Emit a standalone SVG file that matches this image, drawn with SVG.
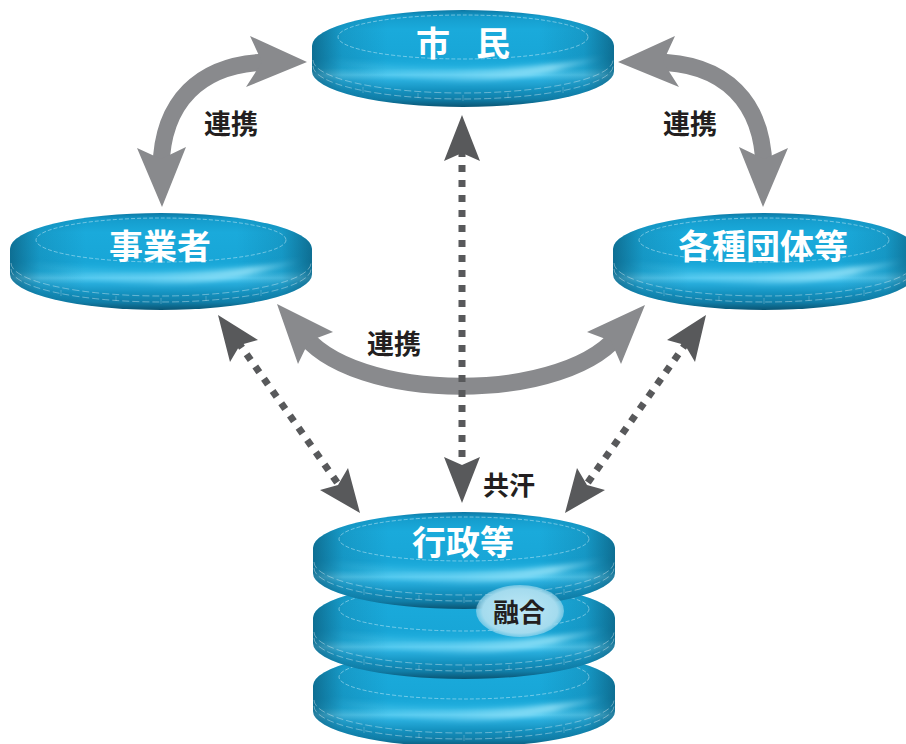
<svg xmlns="http://www.w3.org/2000/svg" xmlns:xlink="http://www.w3.org/1999/xlink" width="906" height="744" viewBox="0 0 906 744">
  <style>
    .lbl { font-family: "Noto Sans CJK JP", "Noto Sans", sans-serif; font-weight: 700; }
    .disk-text { fill: #ffffff; font-size: 34px; text-anchor: middle; dominant-baseline: central; }
    .link-text { fill: #231f20; font-size: 27px; text-anchor: middle; dominant-baseline: central; }
    .gray-shaft { fill: none; stroke: #898a8d; stroke-width: 17; }
    .gray-head { fill: #898a8d; }
    .dots { fill: none; stroke: #58595b; stroke-width: 7; stroke-dasharray: 7 8; }
    .dark-head { fill: #58595b; }
    .rim-dash { fill: none; stroke: #ffffff; stroke-opacity: 0.4; stroke-width: 0.9; stroke-dasharray: 7 3; }
  </style>
  <defs>
    <linearGradient id="body" x1="0" y1="0" x2="0" y2="1">
      <stop offset="0" stop-color="#0d78a4"/>
      <stop offset="0.07" stop-color="#159dcd"/>
      <stop offset="0.2" stop-color="#1aaadb"/>
      <stop offset="0.5" stop-color="#18a6d7"/>
      <stop offset="0.6" stop-color="#22b0df"/>
      <stop offset="0.67" stop-color="#4fc8ef"/>
      <stop offset="0.73" stop-color="#27acdb"/>
      <stop offset="0.82" stop-color="#1593c1"/>
      <stop offset="0.92" stop-color="#107ea8"/>
      <stop offset="1" stop-color="#0a5574"/>
    </linearGradient>
    <linearGradient id="endShade" x1="0" y1="0" x2="1" y2="0">
      <stop offset="0" stop-color="#05405a" stop-opacity="0.55"/>
      <stop offset="0.1" stop-color="#05405a" stop-opacity="0.15"/>
      <stop offset="0.25" stop-color="#05405a" stop-opacity="0"/>
      <stop offset="0.75" stop-color="#05405a" stop-opacity="0"/>
      <stop offset="0.9" stop-color="#05405a" stop-opacity="0.15"/>
      <stop offset="1" stop-color="#05405a" stop-opacity="0.55"/>
    </linearGradient>
    <linearGradient id="sheen" x1="0" y1="0" x2="1" y2="0">
      <stop offset="0" stop-color="#9be4f9" stop-opacity="0"/>
      <stop offset="0.45" stop-color="#9be4f9" stop-opacity="0.25"/>
      <stop offset="0.8" stop-color="#b0eefd" stop-opacity="0.7"/>
      <stop offset="1" stop-color="#9be4f9" stop-opacity="0"/>
    </linearGradient>
    <radialGradient id="bubble" cx="0.5" cy="0.5" r="0.5">
      <stop offset="0" stop-color="#bfe8f5"/>
      <stop offset="0.85" stop-color="#a4dbee"/>
      <stop offset="1" stop-color="#a4dbee" stop-opacity="0.6"/>
    </radialGradient>
    <filter id="soft" x="-10%" y="-50%" width="120%" height="200%">
      <feGaussianBlur stdDeviation="2.5"/>
    </filter>

    <!-- glossy puck, 302 wide and 97 tall, top-centre at the origin -->
    <g id="puck">
      <path d="M-151,36 A151,36 0 0 1 151,36 L151,61 A151,36 0 0 1 -151,61 Z" fill="url(#body)"/>
      <path d="M-151,36 A151,36 0 0 1 151,36 L151,61 A151,36 0 0 1 -151,61 Z" fill="url(#endShade)"/>
      <path d="M-146,46 Q0,96 146,46 Q0,72 -146,46 Z" fill="url(#sheen)" filter="url(#soft)"/>
      <ellipse cx="0" cy="27" rx="125" ry="22" fill="none" stroke="#d4f1fb" stroke-opacity="0.6" stroke-width="0.8" stroke-dasharray="4 2"/>
      <path class="rim-dash" d="M-150,50 A150,33 0 0 0 150,50"/>
      <path class="rim-dash" d="M-150,56 A150,33 0 0 0 150,56"/>
      <path d="M-100,77 v6 M-45,83 v5 M0,85 v6 M45,83 v5 M100,77 v6" stroke="#ffffff" stroke-opacity="0.3" stroke-width="0.8"/>
    </g>
  </defs>

  <!-- connectors -->
  <g id="connectors">
    <!-- solid grey partnership arrows -->
    <path class="gray-shaft" d="M272,62 C198,62 162,104 161,168"/>
    <polygon class="gray-head" points="307,62 250,36 262,62 246,87"/>
    <polygon class="gray-head" points="162,207 137,148 161,159 186,147"/>

    <path class="gray-shaft" d="M653,62 C727,62 763,104 764,168"/>
    <polygon class="gray-head" points="618,62 675,36 663,62 679,87"/>
    <polygon class="gray-head" points="763,207 788,148 764,159 739,147"/>

    <path class="gray-shaft" d="M300,330 C350,405 572,405 622,330"/>
    <polygon class="gray-head" points="277,304 333,332 309,341 298,364"/>
    <polygon class="gray-head" points="645,305 587,332 611,341 621,364"/>

    <!-- dotted arrows to the administration stack -->
    <path class="dots" d="M462,150 L462,470"/>
    <polygon class="dark-head" points="462,115 444,161 462,153 480,161"/>
    <polygon class="dark-head" points="462,503 444,457 462,465 480,457"/>

    <path class="dots" d="M238,342 L341,488"/>
    <polygon class="dark-head" points="218,315 258,340 240,345 230,362"/>
    <polygon class="dark-head" points="360,513 320,490 338,485 348,468"/>

    <path class="dots" d="M687,342 L584,488"/>
    <polygon class="dark-head" points="706,315 667,340 685,345 695,362"/>
    <polygon class="dark-head" points="565,513 605,490 587,485 577,468"/>

    <text class="lbl link-text" x="231" y="122">連携</text>
    <text class="lbl link-text" x="690" y="122">連携</text>
    <text class="lbl link-text" x="394" y="342">連携</text>
    <text class="lbl link-text" x="509" y="483" style="font-size:26px">共汗</text>
  </g>

  <g id="node-shimin">
    <use href="#puck" x="463" y="10"/>
    <text class="lbl disk-text" y="41"><tspan x="433">市</tspan><tspan x="493">民</tspan></text>
  </g>

  <g id="node-jigyosha">
    <use href="#puck" x="161" y="213"/>
    <text class="lbl disk-text" x="160" y="244">事業者</text>
  </g>

  <g id="node-kakushu">
    <use href="#puck" x="764" y="213"/>
    <text class="lbl disk-text" x="763" y="244">各種団体等</text>
  </g>

  <g id="node-gyosei">
    <use href="#puck" x="464" y="650"/>
    <use href="#puck" x="464" y="582"/>
    <use href="#puck" x="464" y="512"/>
    <text class="lbl disk-text" x="463" y="540">行政等</text>
  </g>

  <g id="node-yugo">
    <ellipse cx="520" cy="611" rx="44" ry="26" fill="url(#bubble)"/>
    <text class="lbl link-text" x="519" y="610" style="font-size:26px">融合</text>
  </g>
</svg>
